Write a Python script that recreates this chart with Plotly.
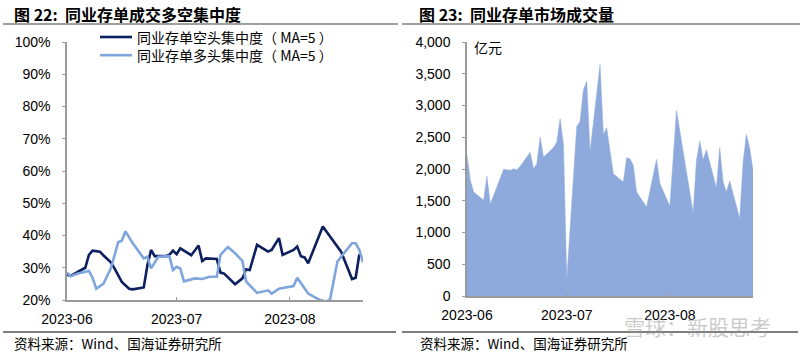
import plotly.graph_objects as go

# ---------------- data ----------------
short_dates = ["2023-06-01","2023-06-02","2023-06-06","2023-06-07","2023-06-08","2023-06-10","2023-06-11",
               "2023-06-13","2023-06-14","2023-06-16","2023-06-18","2023-06-19","2023-06-22","2023-06-23",
               "2023-06-24","2023-06-25","2023-06-28","2023-06-29","2023-06-30","2023-07-01","2023-07-02",
               "2023-07-05","2023-07-07","2023-07-08","2023-07-09","2023-07-10","2023-07-12","2023-07-13",
               "2023-07-14","2023-07-17","2023-07-19","2023-07-20","2023-07-21","2023-07-23","2023-07-26",
               "2023-07-27","2023-07-29","2023-07-30","2023-08-02","2023-08-03","2023-08-04","2023-08-05",
               "2023-08-06","2023-08-10","2023-08-13","2023-08-15","2023-08-18","2023-08-19","2023-08-20"]
short_conc = [27.9,27.5,30.0,34.0,35.3,35.0,33.8,31.7,29.8,25.6,23.5,23.3,23.9,30.8,35.5,33.6,33.6,34.0,35.3,34.2,
              36.0,33.9,36.9,32.1,32.9,32.9,32.7,28.5,28.2,24.9,26.7,29.5,29.3,37.1,35.0,35.5,39.2,34.0,35.5,36.6,
              33.6,33.2,31.4,42.8,38.3,35.0,26.5,26.9,34.2]

long_dates = ["2023-06-01","2023-06-02","2023-06-04","2023-06-07","2023-06-08","2023-06-09","2023-06-11",
              "2023-06-13","2023-06-14","2023-06-15","2023-06-16","2023-06-17","2023-06-19","2023-06-22",
              "2023-06-23","2023-06-24","2023-06-26","2023-06-29","2023-06-30","2023-07-01","2023-07-02",
              "2023-07-03","2023-07-06","2023-07-08","2023-07-10","2023-07-12","2023-07-13","2023-07-15",
              "2023-07-17","2023-07-19","2023-07-20","2023-07-23","2023-07-26","2023-07-27","2023-07-29",
              "2023-08-02","2023-08-03","2023-08-06","2023-08-09","2023-08-11","2023-08-12","2023-08-14",
              "2023-08-15","2023-08-18","2023-08-19","2023-08-20","2023-08-21"]
long_conc = [28.5,27.4,28.2,29.0,26.9,23.5,25.1,29.8,33.8,37.9,38.4,41.3,37.6,32.9,33.4,29.8,33.4,33.6,29.3,30.3,
             29.8,25.8,26.7,26.5,27.2,27.2,34.0,36.4,34.5,32.1,25.8,22.2,23.0,22.0,23.5,24.3,26.9,22.0,20.1,19.5,
             20.2,31.9,33.4,37.6,37.6,35.5,31.7]

vol_dates = ["2023-06-01","2023-06-02","2023-06-03","2023-06-06","2023-06-07","2023-06-08","2023-06-12",
             "2023-06-14","2023-06-15","2023-06-16","2023-06-17","2023-06-20","2023-06-21","2023-06-22",
             "2023-06-23","2023-06-24","2023-06-27","2023-06-28","2023-06-29","2023-06-30","2023-07-01",
             "2023-07-04","2023-07-05","2023-07-06","2023-07-07","2023-07-08","2023-07-11","2023-07-12",
             "2023-07-13","2023-07-15","2023-07-18","2023-07-19","2023-07-20","2023-07-21","2023-07-22",
             "2023-07-25","2023-07-28","2023-07-29","2023-08-01","2023-08-03","2023-08-08","2023-08-09",
             "2023-08-10","2023-08-11","2023-08-12","2023-08-15","2023-08-16","2023-08-17","2023-08-18",
             "2023-08-19","2023-08-22","2023-08-23","2023-08-24","2023-08-25","2023-08-26"]
vol_values = [2215,1822,1639,1508,1885,1445,1995,1979,2005,1990,2042,2262,2005,2084,2503,2188,2335,2424,2791,2398,
              262,2670,2749,3246,3382,2267,3644,2545,2649,1927,1796,2178,2162,2058,1639,1403,2152,1770,1414,2921,
              1309,2136,2440,2147,2304,1702,2335,1796,1639,1812,1220,2094,2545,2335,1979]

month_ticks = ["2023-06-01", "2023-07-01", "2023-08-01"]
month_labels = ["2023-06", "2023-07", "2023-08"]
pct_ticks = [20, 30, 40, 50, 60, 70, 80, 90, 100]
vol_ticks = [0, 500, 1000, 1500, 2000, 2500, 3000, 3500, 4000]
series_names = ["同业存单空头集中度（ MA=5 ）", "同业存单多头集中度（ MA=5 ）"]
series_colors = ["#0c1f5e", "#7fa5dd"]

W, H = 800, 353
def px(x): return x / W
def py(y): return 1 - y / H

CJK = "Noto Sans CJK SC"
NUM = "Liberation Sans, Arial"
AXC = "#9a9a9a"

fig = go.Figure()
fig.add_trace(go.Scatter(x=short_dates, y=short_conc, mode="lines", name=series_names[0],
                         line=dict(color=series_colors[0], width=2.6), xaxis="x", yaxis="y"))
fig.add_trace(go.Scatter(x=long_dates, y=long_conc, mode="lines", name=series_names[1],
                         line=dict(color=series_colors[1], width=2.6), xaxis="x", yaxis="y"))
fig.add_trace(go.Scatter(x=vol_dates, y=vol_values, mode="lines", fill="tozeroy",
                         fillcolor="#8eaadc", line=dict(color="#8eaadc", width=0.5), xaxis="x2", yaxis="y2"))

xcommon = dict(type="date", tickvals=month_ticks, ticktext=month_labels, showgrid=False, zeroline=False,
               showline=True, linecolor=AXC, linewidth=1.5, ticks="inside", ticklen=3, tickcolor=AXC,
               tickfont=dict(family=NUM, size=14, color="#000"), ticklabelstandoff=5, automargin=False)
ycommon = dict(showgrid=False, zeroline=False, showline=True, linecolor=AXC, linewidth=1.5,
               ticks="outside", ticklen=3, tickcolor=AXC, automargin=False,
               tickfont=dict(family=NUM, size=14, color="#000"), ticklabelstandoff=9)

fig.update_layout(
    width=W, height=H, margin=dict(l=0, r=0, t=0, b=0, autoexpand=False),
    paper_bgcolor="white", plot_bgcolor="white", showlegend=False,
    xaxis=dict(domain=[px(67), px(363)], range=["2023-06-01", "2023-08-21"], anchor="y", **xcommon),
    yaxis=dict(domain=[py(300), py(42)], range=[20, 100], tickvals=pct_ticks,
               ticktext=[f"{v}%" for v in pct_ticks], anchor="x", **ycommon),
    xaxis2=dict(domain=[px(467), px(753)], range=["2023-06-01", "2023-08-26"], anchor="y2", **xcommon),
    yaxis2=dict(domain=[py(296), py(42)], range=[0, 4000], tickvals=vol_ticks,
                ticktext=[f"{v:,}" for v in vol_ticks], anchor="x2", **ycommon),
)

shapes = []
# title / footer rules
for x0, x1 in [(3, 398), (402, 800)]:
    shapes.append(dict(type="line", xref="paper", yref="paper", x0=px(x0), x1=px(x1), y0=py(24), y1=py(24),
                       line=dict(color="#7f7f7f", width=1.5)))
    shapes.append(dict(type="line", xref="paper", yref="paper", x0=px(x0), x1=px(x1 - 2), y0=py(332), y1=py(332),
                       line=dict(color="#7f7f7f", width=2)))
ann = []
# legend (drawn manually): sample lines + one two-line text block
for i, col in enumerate(series_colors):
    yy = 37 + 18.2 * i
    shapes.append(dict(type="line", xref="paper", yref="paper", x0=px(100), x1=px(132), y0=py(yy), y1=py(yy),
                       line=dict(color=col, width=2.6)))
ann.append(dict(text="<br>".join(series_names), x=px(135), y=py(46.1), xref="paper", yref="paper",
                xanchor="left", yanchor="middle", align="left", showarrow=False,
                font=dict(family=CJK, size=14, color="#000")))
fig.update_layout(shapes=shapes)

ann.append(dict(text="<b>图 22:  同业存单成交多空集中度</b>", x=px(12), y=py(14), xref="paper", yref="paper",
                xanchor="left", yanchor="middle", showarrow=False, font=dict(family=CJK, size=16, color="#000")))
ann.append(dict(text="<b>图 23:  同业存单市场成交量</b>", x=px(417), y=py(14), xref="paper", yref="paper",
                xanchor="left", yanchor="middle", showarrow=False, font=dict(family=CJK, size=16, color="#000")))
ann.append(dict(text="资料来源：Wind、国海证券研究所", x=px(12), y=py(343), xref="paper", yref="paper",
                xanchor="left", yanchor="middle", showarrow=False, font=dict(family=CJK, size=13.5, color="#000")))
ann.append(dict(text="资料来源：Wind、国海证券研究所", x=px(418), y=py(343), xref="paper", yref="paper",
                xanchor="left", yanchor="middle", showarrow=False, font=dict(family=CJK, size=13.5, color="#000")))
ann.append(dict(text="亿元", x=px(472), y=py(47), xref="paper", yref="paper",
                xanchor="left", yanchor="middle", showarrow=False, font=dict(family=CJK, size=14, color="#000")))
ann.append(dict(text="雪球：新股思考", x=px(622), y=py(326), xref="paper", yref="paper",
                xanchor="left", yanchor="middle", showarrow=False,
                font=dict(family=CJK, size=21, color="rgba(150,150,150,0.5)")))
fig.update_layout(annotations=ann)

fig.write_html("out.html")
